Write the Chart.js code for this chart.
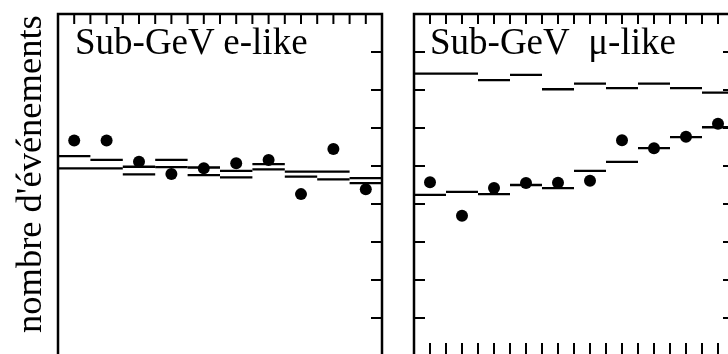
<!DOCTYPE html>
<html>
<head>
<meta charset="utf-8">
<script src="https://cdn.jsdelivr.net/npm/chart.js@4.4.1/dist/chart.umd.min.js"></script>
<style>
  html, body { margin: 0; width: 728px; height: 354px; overflow: hidden; background: #fff; }
  .panel { position: absolute; top: 0; }
  .txt { position: absolute; font-family: "Liberation Serif", "DejaVu Serif", serif; font-size: 37px; line-height: 36px; color: #000; white-space: nowrap; z-index: 2; }
  #ylabel { left: 0; top: 0; transform-origin: 0 0; transform: translate(11px, 333px) rotate(-90deg); font-size: 36.5px; }
</style>
</head>
<body>
<div class="panel" style="left:0"><canvas id="eLike" width="400" height="400"></canvas></div>
<div class="panel" style="left:400px"><canvas id="muLike" width="340" height="400"></canvas></div>
<div class="txt" id="ylabel">nombre d'événements</div>
<div class="txt" style="left:75px; top:24px">Sub-GeV e-like</div>
<div class="txt" style="left:430px; top:24px">Sub-GeV&nbsp; μ-like</div>
<script>
// 10 bins, values in units of the y tick spacing (no labels on the original)
const bins = [1, 2, 3, 4, 5, 6, 7, 8, 9, 10];
const xMinorTicks = [0.5, 1, 1.5, 2, 2.5, 3, 3.5, 4, 4.5, 5, 5.5, 6, 6.5, 7, 7.5, 8, 8.5, 9, 9.5];
const yTicks = [1, 2, 3, 4, 5, 6, 7, 8];

// Sub-GeV e-like
const eData   = [5.67, 5.67, 5.11, 4.79, 4.94, 5.07, 5.16, 4.26, 5.45, 4.39];
const eMcHigh = [5.26, 5.16, 4.98, 5.16, 4.96, 4.87, 5.05, 4.85, 4.85, 4.68];
const eMcLow  = [4.94, 4.94, 4.78, 4.97, 4.76, 4.70, 4.91, 4.72, 4.65, 4.55];

// Sub-GeV mu-like
const muData   = [4.57, 3.69, 4.42, 4.55, 4.56, 4.61, 5.68, 5.47, 5.77, 6.11];
const muNoOsc  = [7.43, 7.43, 7.26, 7.40, 7.02, 7.17, 7.05, 7.17, 7.05, 6.93];
const muOsc    = [4.24, 4.32, 4.26, 4.50, 4.42, 4.87, 5.11, 5.47, 5.76, 6.02];

// horizontal bar per bin, no vertical joins
function steps(values) {
  const pts = [];
  values.forEach((v, i) => {
    pts.push({ x: i, y: v }, { x: i + 1, y: v }, { x: i + 1, y: null });
  });
  return pts;
}

function dots(values) {
  return values.map((v, i) => ({ x: bins[i] - 0.5, y: v }));
}

const framePlugin = {
  id: 'frame',
  afterDatasetsDraw(chart, args, opts) {
    const { ctx, chartArea: a, scales: { x, y } } = chart;
    ctx.save();
    ctx.strokeStyle = '#000';
    ctx.lineWidth = 2;
    ctx.beginPath();
    xMinorTicks.forEach(v => {
      const px = x.getPixelForValue(v);
      if (opts.top) { ctx.moveTo(px, a.top); ctx.lineTo(px, a.top + 10); }
      if (opts.bottom) { ctx.moveTo(px, a.bottom); ctx.lineTo(px, a.bottom - 13); }
    });
    yTicks.forEach(v => {
      const py = y.getPixelForValue(v);
      if (opts.left) { ctx.moveTo(a.left, py); ctx.lineTo(a.left + 11, py); }
      if (opts.right) { ctx.moveTo(a.right, py); ctx.lineTo(a.right - 11, py); }
    });
    ctx.stroke();
    ctx.lineWidth = 2.5;
    ctx.strokeRect(a.left, a.top, a.right - a.left, a.bottom - a.top);
    ctx.restore();
  }
};

function histo(values) {
  return {
    type: 'line',
    data: steps(values),
    borderColor: '#000',
    borderWidth: 2.3,
    pointRadius: 0,
    spanGaps: false,
    tension: 0
  };
}

function makeChart(id, data, mcA, mcB, padding, sides) {
  return new Chart(document.getElementById(id), {
    type: 'scatter',
    data: {
      datasets: [
        histo(mcA),
        histo(mcB),
        {
          type: 'scatter',
          data: dots(data),
          backgroundColor: '#000',
          borderWidth: 0,
          pointRadius: 6
        }
      ]
    },
    options: {
      responsive: false,
      animation: false,
      layout: { padding: padding },
      scales: {
        x: { type: 'linear', min: 0, max: bins.length, display: false },
        y: { type: 'linear', min: 0, max: 9, display: false }
      },
      plugins: {
        legend: { display: false },
        tooltip: { enabled: false },
        frame: sides
      }
    },
    plugins: [framePlugin]
  });
}

makeChart('eLike', eData, eMcHigh, eMcLow,
  { left: 58, top: 14, right: 18, bottom: 44 },
  { top: true, right: true });

makeChart('muLike', muData, muNoOsc, muOsc,
  { left: 14, top: 14, right: 5, bottom: 44 },
  { top: true, bottom: true, left: true, right: true });
</script>
</body>
</html>
